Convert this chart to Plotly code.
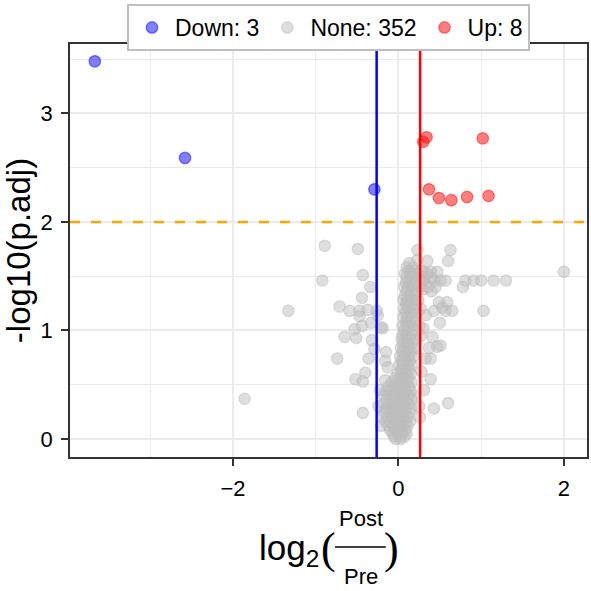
import plotly.graph_objects as go

# ---------------------------------
# Données
# ---------------------------------
down_lfc = [-3.67, -2.58, -0.29]
down_padj = [3.48, 2.59, 2.30]

up_lfc = [0.34, 0.30, 1.02, 0.37, 0.49, 0.64, 0.83, 1.09]
up_padj = [2.78, 2.74, 2.77, 2.30, 2.22, 2.20, 2.23, 2.24]

# points non significatifs dispersés
none_lfc_scatter = [
    -1.86, -1.33, -0.89, -0.49, -0.92, -0.43, -0.34, -0.44, -0.71, -0.59,
    -0.47, -0.37, -0.26, -0.47, -0.25, -0.33, -0.44, -0.53, -0.19, -0.21,
    -0.65, -0.51, -0.32, -0.74, -0.36, -0.29, -0.15, -0.16, -0.13, -0.40,
    -0.52, -0.43, -0.16, -0.43, -0.22, -0.24, -0.20, -0.21,
    0.23, 0.63, 0.35, 0.60, 0.23, 0.31, 0.39, 0.47, 0.13, 0.31,
    0.43, 0.51, 0.57, 0.81, 0.91, 1.00, 1.15, 1.30, 0.78, 2.00,
    0.30, 0.40, 0.11, 0.49, 0.59, 0.53, 0.65, 0.57, 0.43, 1.03,
    0.33, 0.50, 0.41, 0.51, 0.47, 0.37, 0.33, 0.39, 0.39, 0.31,
    0.60, 0.43, 0.28, 0.27, 0.30, 0.25, 0.26,
]
none_padj_scatter = [
    0.37, 1.18, 1.78, 1.75, 1.46, 1.51, 1.40, 1.30, 1.22, 1.18,
    1.18, 1.19, 1.18, 1.13, 1.14, 1.07, 1.04, 1.01, 1.02, 1.03,
    0.94, 0.93, 0.91, 0.74, 0.74, 0.83, 0.80, 0.72, 0.66, 0.61,
    0.55, 0.53, 0.54, 0.24, 0.45, 0.30, 0.20, 0.12,
    1.74, 1.74, 1.64, 1.64, 1.65, 1.54, 1.54, 1.54, 1.46, 1.46,
    1.46, 1.46, 1.46, 1.46, 1.46, 1.46, 1.46, 1.46, 1.40, 1.54,
    1.38, 1.36, 1.27, 1.26, 1.26, 1.21, 1.18, 1.18, 1.18, 1.18,
    1.14, 1.07, 0.94, 0.86, 0.85, 0.84, 0.74, 0.74, 0.55, 0.45,
    0.33, 0.28, 0.62, 0.95, 1.02, 0.30, 0.20,
]

# noyau dense autour de 0
none_lfc_core = [
    0.13,
    0.10, 0.17,
    0.12, 0.20, 0.27,
    0.08, 0.15, 0.22, 0.35,
    0.10, 0.18, 0.25, 0.30, 0.40,
    0.09, 0.14, 0.21, 0.28,
    0.07, 0.12, 0.19, 0.26, 0.36, 0.45,
    0.10, 0.16, 0.22,
    0.08, 0.13, 0.20,
    0.06, 0.11, 0.17, 0.24,
    0.09, 0.14, 0.21,
    0.07, 0.12, 0.18, 0.27,
    0.08, 0.15, 0.22,
    0.06, 0.11, 0.17,
    0.09, 0.14, 0.20,
    0.05, 0.10, 0.16, 0.25,
    0.07, 0.12, 0.19,
    0.05, 0.10, 0.15,
    0.04, 0.09, 0.14, 0.21,
    0.06, 0.11, 0.17,
    0.03, 0.08, 0.13, 0.19,
    0.05, 0.10, 0.16,
    0.02, 0.07, 0.12, 0.18,
    0.04, 0.09, 0.14,
    0.01, 0.06, 0.11, 0.16,
    0.03, 0.08, 0.13,
    -0.01, 0.04, 0.09, 0.15,
    -0.04, 0.02, 0.07, 0.12,
    -0.08, -0.02, 0.04, 0.10, 0.16,
    -0.12, -0.05, 0.01, 0.07, 0.13,
    -0.15, -0.09, -0.03, 0.03, 0.09, 0.15,
    -0.17, -0.11, -0.05, 0.01, 0.06, 0.12, 0.18,
    -0.14, -0.08, -0.02, 0.04, 0.10, 0.16,
    -0.18, -0.12, -0.06, 0.00, 0.06, 0.12,
    -0.15, -0.09, -0.03, 0.03, 0.09, 0.15,
    -0.17, -0.11, -0.05, 0.01, 0.07, 0.13,
    -0.13, -0.07, -0.01, 0.05, 0.11,
    -0.15, -0.09, -0.03, 0.03, 0.09, 0.14,
    -0.12, -0.06, 0.00, 0.06, 0.11,
    -0.10, -0.04, 0.02, 0.08,
    -0.07, -0.01, 0.05, 0.10,
    -0.05, 0.01, 0.07,
    -0.03, 0.03,
]
none_padj_core = [
    1.62,
    1.58, 1.58,
    1.55, 1.55, 1.55,
    1.52, 1.52, 1.52, 1.52,
    1.49, 1.49, 1.49, 1.49, 1.49,
    1.44, 1.44, 1.44, 1.44,
    1.40, 1.40, 1.40, 1.40, 1.40, 1.40,
    1.36, 1.36, 1.36,
    1.32, 1.32, 1.32,
    1.28, 1.28, 1.28, 1.28,
    1.24, 1.24, 1.24,
    1.20, 1.20, 1.20, 1.20,
    1.16, 1.16, 1.16,
    1.12, 1.12, 1.12,
    1.08, 1.08, 1.08,
    1.04, 1.04, 1.04, 1.04,
    1.00, 1.00, 1.00,
    0.96, 0.96, 0.96,
    0.92, 0.92, 0.92, 0.92,
    0.88, 0.88, 0.88,
    0.84, 0.84, 0.84, 0.84,
    0.80, 0.80, 0.80,
    0.76, 0.76, 0.76, 0.76,
    0.72, 0.72, 0.72,
    0.68, 0.68, 0.68, 0.68,
    0.64, 0.64, 0.64,
    0.60, 0.60, 0.60, 0.60,
    0.56, 0.56, 0.56, 0.56,
    0.52, 0.52, 0.52, 0.52, 0.52,
    0.48, 0.48, 0.48, 0.48, 0.48,
    0.44, 0.44, 0.44, 0.44, 0.44, 0.44,
    0.40, 0.40, 0.40, 0.40, 0.40, 0.40, 0.40,
    0.36, 0.36, 0.36, 0.36, 0.36, 0.36,
    0.32, 0.32, 0.32, 0.32, 0.32, 0.32,
    0.28, 0.28, 0.28, 0.28, 0.28, 0.28,
    0.24, 0.24, 0.24, 0.24, 0.24, 0.24,
    0.20, 0.20, 0.20, 0.20, 0.20,
    0.16, 0.16, 0.16, 0.16, 0.16, 0.16,
    0.12, 0.12, 0.12, 0.12, 0.12,
    0.08, 0.08, 0.08, 0.08,
    0.05, 0.05, 0.05, 0.05,
    0.02, 0.02, 0.02,
    0.00, 0.00,
]

legend_names = ["Down: 3", "None: 352", "Up: 8"]

LFC_CUTOFF = 0.263      # log2(1.2)
PADJ_CUTOFF = 2         # -log10(0.01)

x_ticks = [-2, 0, 2]
y_ticks = [0, 1, 2, 3]

# ---------------------------------
# Style
# ---------------------------------
FONT = "Arial, Liberation Sans, sans-serif"
SERIF = "Liberation Serif, Times New Roman, serif"
GREY = "rgba(190,190,190,0.5)"
BLUE = "rgba(0,0,255,0.5)"
RED = "rgba(255,0,0,0.5)"
DARK = "#333333"
GRID = "#ebebeb"


def point_trace(x, y, color, name):
    return go.Scatter(
        x=x, y=y, mode="markers", name=name,
        marker=dict(size=11.5, color=color, line=dict(color=color, width=1.2)),
    )


def px_x(p):
    # pixel horizontal -> coordonnée papier (panneau de 70 à 589)
    return (p - 70) / 519


def px_y(p):
    # pixel vertical -> coordonnée papier (panneau de 44 à 457)
    return (457 - p) / 413


fig = go.Figure()
fig.add_trace(point_trace(down_lfc, down_padj, BLUE, legend_names[0]))
fig.add_trace(point_trace(none_lfc_scatter + none_lfc_core,
                          none_padj_scatter + none_padj_core, GREY, legend_names[1]))
fig.add_trace(point_trace(up_lfc, up_padj, RED, legend_names[2]))

# seuils
fig.add_shape(type="line", xref="x", yref="paper", x0=-LFC_CUTOFF, x1=-LFC_CUTOFF,
              y0=0, y1=1, line=dict(color="#0000ff", width=2.5))
fig.add_shape(type="line", xref="x", yref="paper", x0=LFC_CUTOFF, x1=LFC_CUTOFF,
              y0=0, y1=1, line=dict(color="#ff0000", width=2.5))
fig.add_shape(type="line", xref="paper", yref="y", x0=0, x1=1,
              y0=PADJ_CUTOFF, y1=PADJ_CUTOFF,
              line=dict(color="#ffa500", width=2.5, dash="10px,11px"))

# titre de l'axe x : log2(Post / Pre) en fraction
fig.add_annotation(xref="paper", yref="paper", x=px_x(322), y=px_y(550),
                   xanchor="right", yanchor="middle", showarrow=False,
                   text="log<sub>2</sub>", font=dict(family=FONT, size=35, color="black"))
fig.add_annotation(xref="paper", yref="paper", x=px_x(329), y=px_y(548),
                   xanchor="center", yanchor="middle", showarrow=False,
                   text="(", font=dict(family=SERIF, size=44, color="black"))
fig.add_annotation(xref="paper", yref="paper", x=px_x(393), y=px_y(548),
                   xanchor="center", yanchor="middle", showarrow=False,
                   text=")", font=dict(family=SERIF, size=44, color="black"))
fig.add_annotation(xref="paper", yref="paper", x=px_x(362), y=px_y(518),
                   xanchor="center", yanchor="middle", showarrow=False,
                   text="Post", font=dict(family=FONT, size=22, color="black"))
fig.add_annotation(xref="paper", yref="paper", x=px_x(362), y=px_y(576),
                   xanchor="center", yanchor="middle", showarrow=False,
                   text="Pre", font=dict(family=FONT, size=22, color="black"))
fig.add_shape(type="line", xref="paper", yref="paper", x0=px_x(336), x1=px_x(387),
              y0=px_y(547), y1=px_y(547), line=dict(color="black", width=1.5))

axis_common = dict(
    showline=True, mirror=True, linecolor=DARK, linewidth=1.5,
    ticks="outside", ticklen=7, tickwidth=1.5, tickcolor=DARK,
    tickfont=dict(family=FONT, size=22, color="black"),
    showgrid=True, gridcolor=GRID, gridwidth=1.5, zeroline=False,
)

fig.update_xaxes(range=[-3.97, 2.28], tickvals=x_ticks, ticklabelstandoff=4,
                 minor=dict(tickvals=[-3, -1, 1], showgrid=True, gridcolor=GRID, gridwidth=0.8),
                 **axis_common)
fig.update_yaxes(range=[-0.167, 3.64], tickvals=y_ticks, ticklabelstandoff=4,
                 title=dict(text="-log10(p.adj)", font=dict(family=FONT, size=33, color="black"),
                            standoff=4),
                 minor=dict(tickvals=[0.5, 1.5, 2.5, 3.5], showgrid=True, gridcolor=GRID, gridwidth=0.8),
                 **axis_common)

fig.update_layout(
    width=591, height=591,
    margin=dict(l=70, r=2, t=44, b=134),
    plot_bgcolor="white", paper_bgcolor="white",
    font=dict(family=FONT, color="black"),
    legend=dict(orientation="h", x=0.5, xanchor="center", y=px_y(4), yanchor="top",
                bordercolor="#bfbfbf", borderwidth=2, bgcolor="white",
                font=dict(family=FONT, size=23, color="black"),
                itemwidth=36, tracegroupgap=0),
    showlegend=True,
)

fig.write_html("out.html", config={"displayModeBar": False},
               post_script="document.body.style.margin='0';")
